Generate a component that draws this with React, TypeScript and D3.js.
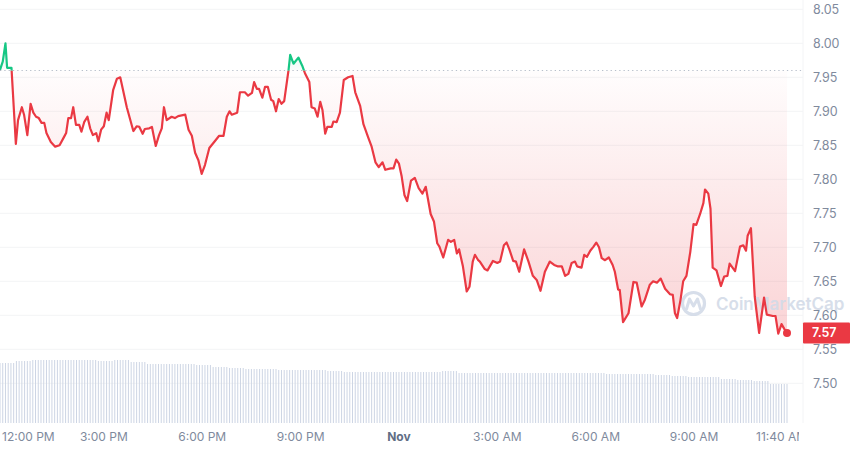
import React from 'react';
import * as d3 from 'd3';

// price readings: [minutes after 11:50 AM Oct 31, price in USD]
const pricePoints: [number, number][] = [
  [0, 7.961], [5, 7.973], [10, 8.0], [13, 7.964], [21, 7.964], [29, 7.852], [33, 7.887], [40, 7.906],
  [44, 7.895], [50, 7.865], [56, 7.911], [61, 7.898], [66, 7.892], [71, 7.89], [76, 7.883], [81, 7.883],
  [85, 7.868], [93, 7.855], [101, 7.848], [109, 7.85], [117, 7.862], [121, 7.868], [125, 7.89], [130, 7.89],
  [134, 7.906], [139, 7.88], [145, 7.88], [149, 7.87], [154, 7.884], [160, 7.892], [165, 7.875], [170, 7.865],
  [176, 7.868], [180, 7.856], [185, 7.873], [190, 7.878], [195, 7.898], [199, 7.887], [207, 7.931], [214, 7.948],
  [220, 7.95], [232, 7.906], [244, 7.871], [250, 7.878], [255, 7.877], [261, 7.867], [265, 7.874], [273, 7.875],
  [278, 7.877], [285, 7.849], [291, 7.865], [296, 7.875], [300, 7.906], [305, 7.887], [314, 7.892], [320, 7.89],
  [326, 7.893], [339, 7.895], [345, 7.873], [351, 7.864], [357, 7.839], [363, 7.828], [369, 7.808], [375, 7.821],
  [383, 7.846], [393, 7.856], [401, 7.864], [409, 7.864], [415, 7.892], [420, 7.9], [424, 7.895], [434, 7.898],
  [439, 7.928], [448, 7.928], [454, 7.923], [461, 7.927], [465, 7.943], [470, 7.933], [474, 7.933], [480, 7.92],
  [485, 7.936], [490, 7.936], [496, 7.917], [500, 7.915], [505, 7.9], [510, 7.918], [515, 7.911], [520, 7.915],
  [528, 7.961], [531, 7.983], [537, 7.97], [546, 7.979], [553, 7.967], [558, 7.956], [566, 7.943], [570, 7.906],
  [576, 7.904], [581, 7.892], [586, 7.914], [590, 7.902], [595, 7.867], [599, 7.877], [607, 7.877], [610, 7.885],
  [616, 7.884], [622, 7.898], [629, 7.946], [637, 7.95], [645, 7.952], [650, 7.928], [659, 7.908], [665, 7.881],
  [674, 7.861], [680, 7.848], [687, 7.825], [693, 7.818], [700, 7.825], [705, 7.814], [715, 7.816], [720, 7.816],
  [725, 7.829], [730, 7.823], [735, 7.804], [740, 7.777], [745, 7.768], [752, 7.798], [759, 7.802], [766, 7.787],
  [773, 7.779], [779, 7.789], [788, 7.749], [794, 7.738], [800, 7.706], [804, 7.701], [811, 7.685], [820, 7.711],
  [825, 7.708], [831, 7.711], [836, 7.691], [840, 7.697], [847, 7.672], [854, 7.635], [859, 7.642], [865, 7.679],
  [869, 7.689], [875, 7.681], [878, 7.679], [887, 7.668], [892, 7.666], [902, 7.68], [910, 7.677], [915, 7.679],
  [922, 7.703], [927, 7.707], [932, 7.697], [939, 7.68], [944, 7.679], [950, 7.664], [959, 7.697], [967, 7.679],
  [975, 7.658], [982, 7.652], [989, 7.636], [997, 7.664], [1006, 7.679], [1014, 7.674], [1020, 7.672], [1028, 7.672],
  [1034, 7.658], [1040, 7.661], [1046, 7.677], [1052, 7.679], [1056, 7.672], [1064, 7.67], [1069, 7.689], [1074, 7.686],
  [1080, 7.695], [1086, 7.701], [1091, 7.707], [1096, 7.7], [1101, 7.684], [1107, 7.681], [1114, 7.685], [1121, 7.674],
  [1125, 7.664], [1131, 7.638], [1134, 7.637], [1140, 7.59], [1150, 7.603], [1159, 7.649], [1165, 7.648], [1174, 7.613],
  [1180, 7.623], [1189, 7.645], [1195, 7.65], [1202, 7.648], [1209, 7.654], [1217, 7.639], [1226, 7.631], [1231, 7.63],
  [1235, 7.603], [1239, 7.596], [1245, 7.622], [1250, 7.65], [1256, 7.658], [1263, 7.693], [1269, 7.734], [1274, 7.733],
  [1281, 7.749], [1287, 7.765], [1290, 7.785], [1296, 7.779], [1300, 7.757], [1304, 7.67], [1311, 7.666], [1319, 7.643],
  [1325, 7.657], [1331, 7.658], [1335, 7.676], [1345, 7.665], [1354, 7.701], [1360, 7.703], [1365, 7.695], [1368, 7.717],
  [1374, 7.728], [1381, 7.627], [1389, 7.574], [1398, 7.626], [1403, 7.601], [1414, 7.599], [1419, 7.599], [1424, 7.573],
  [1430, 7.587], [1435, 7.58], [1440, 7.574],
];

// 24h volume (M), one reading per half hour
const volume24h = [
  60, 62, 63, 63, 63, 63, 62, 63, 61, 59, 59, 59, 58, 56, 55, 54, 54, 53, 53, 53, 52, 51, 51, 51,
  51, 51, 51, 52, 50, 50, 50, 50, 50, 50, 50, 50, 50, 49, 49, 49, 48, 47, 46, 46, 44, 43, 42, 39,
];

const yTicks = [8.05, 8.0, 7.95, 7.9, 7.85, 7.8, 7.75, 7.7, 7.65, 7.6, 7.55, 7.5];
const xTickMinutes = [10, 190, 370, 550, 730, 910, 1090, 1270, 1430];
const xTickLabels = ['12:00 PM', '3:00 PM', '6:00 PM', '9:00 PM', 'Nov', '3:00 AM', '6:00 AM', '9:00 AM', '11:40 AM'];
const openPrice = 7.96;
const lastPrice = 7.57;

const W = 850;
const H = 453;
const plotRight = 803;
const dataRight = 787;
const volBottom = 423;
const RED = '#ea3943';
const GREEN = '#16c784';
const GREY = '#808a9d';

const start = new Date(2023, 9, 31, 11, 50);
const at = (m: number) => new Date(start.getTime() + m * 60000);

export default function App() {
  const x = d3.scaleTime().domain([at(0), at(1440)]).range([0, dataRight]);
  const y = d3.scaleLinear().domain([7.5, 8.05]).range([383.3, 9.3]);
  const yVol = d3.scaleLinear().domain([0, 63]).range([volBottom, 360]);

  const line = d3.line<[number, number]>()
    .x(d => x(at(d[0])))
    .y(d => y(d[1]));
  const area = d3.area<[number, number]>()
    .x(d => x(at(d[0])))
    .y0(y(openPrice))
    .y1(d => y(d[1]));

  const base = y(openPrice);
  const bars = d3.range(0, 289);
  const last = pricePoints[pricePoints.length - 1];

  return (
    <svg width={W} height={H} style={{ position: 'absolute', left: 0, top: 0, background: '#fff' }}
      fontFamily="Inter, 'Noto Sans', sans-serif">
      <defs>
        <clipPath id="below"><rect x={0} y={base} width={W} height={H} /></clipPath>
        <clipPath id="above"><rect x={0} y={0} width={W} height={base} /></clipPath>
        <clipPath id="plot"><rect x={0} y={0} width={799} height={H} /></clipPath>
        <linearGradient id="redFill" gradientUnits="userSpaceOnUse" x1={0} y1={base} x2={0} y2={y(7.57)}>
          <stop offset="0%" stopColor={RED} stopOpacity={0.01} />
          <stop offset="100%" stopColor={RED} stopOpacity={0.22} />
        </linearGradient>
        <linearGradient id="greenFill" gradientUnits="userSpaceOnUse" x1={0} y1={y(8.0)} x2={0} y2={base}>
          <stop offset="0%" stopColor={GREEN} stopOpacity={0.15} />
          <stop offset="100%" stopColor={GREEN} stopOpacity={0.02} />
        </linearGradient>
      </defs>

      {yTicks.map(t => (
        <line key={t} x1={0} x2={plotRight} y1={y(t)} y2={y(t)} stroke="#f3f4f6" strokeWidth={1} />
      ))}
      <line x1={plotRight} x2={plotRight} y1={0} y2={volBottom} stroke="#f3f4f6" strokeWidth={1} />

      {bars.map(k => {
        const v = volume24h[Math.min(volume24h.length - 1, Math.floor(k / 6))];
        const bx = x(at(k * 5));
        return <rect key={k} x={bx - 0.5} y={yVol(v)} width={1} height={volBottom - yVol(v)} fill="#cdd5e4" />;
      })}

      <path d={area(pricePoints) ?? ''} fill="url(#redFill)" clipPath="url(#below)" />
      <path d={area(pricePoints) ?? ''} fill="url(#greenFill)" clipPath="url(#above)" />

      <g opacity={0.9}>
        <circle cx={693.5} cy={303.5} r={11} fill="none" stroke="#d3dbe8" strokeWidth={3.2} />
        <path d="M686.5,309 L689.5,299 L693.5,306 L697.5,299 L700.5,309" fill="none" stroke="#d3dbe8"
          strokeWidth={3} strokeLinejoin="round" strokeLinecap="round" />
        <text x={716} y={309.5} fontSize={17} fontWeight={600} fill="#d3dbe8">CoinMarketCap</text>
      </g>

      <line x1={0} x2={plotRight} y1={base} y2={base} stroke="#b8bfcb" strokeWidth={1.2} strokeDasharray="1.3 3" />

      <path d={line(pricePoints) ?? ''} fill="none" stroke={RED} strokeWidth={2.2} strokeLinejoin="round" clipPath="url(#below)" />
      <path d={line(pricePoints) ?? ''} fill="none" stroke={GREEN} strokeWidth={2.2} strokeLinejoin="round" clipPath="url(#above)" />
      <circle cx={x(at(last[0]))} cy={y(last[1])} r={4} fill={RED} />

      {yTicks.map(t => (
        <text key={t} x={813} y={y(t)} dy="0.36em" fontSize={12.5} fill={GREY}>{t.toFixed(2)}</text>
      ))}

      <rect x={plotRight} y={y(last[1]) - 10.5} width={W - plotRight} height={21} fill={RED} rx={1} />
      <text x={812} y={y(last[1])} dy="0.36em" fontSize={12.5} fontWeight={600} fill="#fff">{lastPrice.toFixed(2)}</text>

      <g clipPath="url(#plot)">
        {xTickMinutes.map((m, i) => {
          const cx = x(at(m));
          const lbl = xTickLabels[i];
          const bold = lbl === 'Nov';
          const leftEdge = cx < 28;
          return (
            <text key={lbl} x={leftEdge ? 2 : cx} y={437} dy="0.36em" fontSize={12}
              textAnchor={leftEdge ? 'start' : 'middle'} fontWeight={bold ? 700 : 400}
              fill={bold ? '#616e85' : GREY}>{lbl}</text>
          );
        })}
      </g>
    </svg>
  );
}
